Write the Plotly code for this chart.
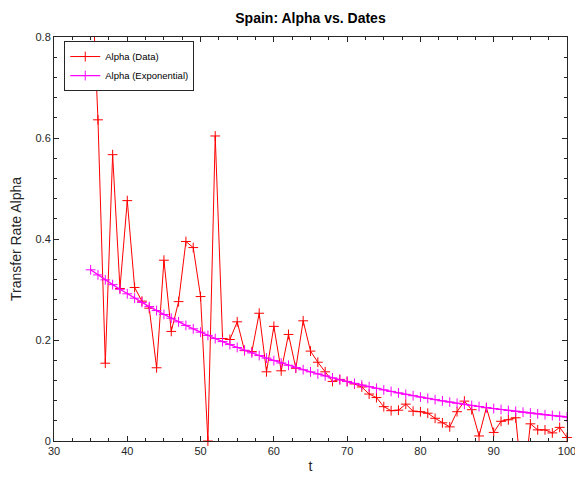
import plotly.graph_objects as go

t = list(range(35, 101))

alpha_data = [
    0.98, 0.636, 0.154, 0.567, 0.302, 0.476, 0.304, 0.277, 0.263, 0.145,
    0.358, 0.217, 0.276, 0.395, 0.383, 0.286, 0.0, 0.604, 0.203, 0.201,
    0.236, 0.179, 0.177, 0.253, 0.137, 0.227, 0.139, 0.211, 0.144, 0.238,
    0.178, 0.156, 0.137, 0.118, 0.122, 0.118, 0.113, 0.107, 0.093, 0.086,
    0.068, 0.060, 0.061, 0.073, 0.059, 0.058, 0.055, 0.045, 0.036, 0.028,
    0.058, 0.079, 0.062, 0.010, 0.066, 0.017, 0.039, 0.042, 0.046, -0.1,
    0.034, 0.022, 0.022, 0.016, 0.027, 0.007,
]

alpha_exp = [
    0.3390, 0.3289, 0.3191, 0.3096, 0.3004, 0.2915, 0.2828, 0.2744, 0.2662, 0.2583,
    0.2506, 0.2431, 0.2359, 0.2289, 0.2221, 0.2155, 0.2091, 0.2028, 0.1968, 0.1909,
    0.1852, 0.1797, 0.1744, 0.1692, 0.1641, 0.1592, 0.1545, 0.1499, 0.1454, 0.1411,
    0.1369, 0.1328, 0.1289, 0.1250, 0.1213, 0.1177, 0.1142, 0.1108, 0.1075, 0.1043,
    0.1012, 0.0982, 0.0953, 0.0924, 0.0897, 0.0870, 0.0844, 0.0819, 0.0795, 0.0771,
    0.0748, 0.0726, 0.0704, 0.0683, 0.0663, 0.0643, 0.0624, 0.0605, 0.0587, 0.0570,
    0.0553, 0.0536, 0.0520, 0.0505, 0.0490, 0.0475,
]

x_ticks = [30, 40, 50, 60, 70, 80, 90, 100]
y_ticks = [0, 0.2, 0.4, 0.6, 0.8]
y_tick_labels = ["0", "0.2", "0.4", "0.6", "0.8"]

AX = "#262626"
FONT = "Liberation Sans, Arial, sans-serif"

fig = go.Figure()
fig.add_trace(go.Scatter(
    x=t, y=alpha_data, name="Alpha (Data)", mode="lines+markers",
    line=dict(color="#ff0000", width=1),
    marker=dict(symbol="cross-thin", size=7, color="#ff0000",
                line=dict(width=1, color="#ff0000")),
    cliponaxis=False,
))
fig.add_trace(go.Scatter(
    x=t, y=alpha_exp, name="Alpha (Exponential)", mode="lines+markers",
    line=dict(color="#ff00ff", width=1.3),
    marker=dict(symbol="cross-thin", size=7, color="#ff00ff",
                line=dict(width=1, color="#ff00ff")),
))

axis_common = dict(
    showline=True, linecolor=AX, linewidth=1, mirror="ticks",
    ticks="inside", ticklen=5, tickcolor=AX, showgrid=False, zeroline=False,
    tickfont=dict(family=FONT, size=11, color=AX),
    ticklabeloverflow="allow", automargin=False,
)

fig.update_layout(
    width=575, height=478,
    margin=dict(l=54, r=8, t=37, b=37, autoexpand=False),
    paper_bgcolor="white", plot_bgcolor="white",
    title=dict(text="<b>Spain: Alpha vs. Dates</b>", x=0.54, xanchor="center",
               y=0.962, yanchor="middle",
               font=dict(family=FONT, size=14, color="black")),
    xaxis=dict(range=[30, 100], tickvals=x_ticks,
               minor=dict(dtick=2.5, ticks="inside", ticklen=3, tickcolor=AX),
               title=dict(text="t", font=dict(family=FONT, size=14, color=AX), standoff=4),
               **axis_common),
    yaxis=dict(range=[0, 0.8], tickvals=y_ticks, ticktext=y_tick_labels,
               minor=dict(dtick=0.04, ticks="inside", ticklen=3, tickcolor=AX),
               title=dict(text="Transfer Rate Alpha", font=dict(family=FONT, size=14, color=AX), standoff=10),
               **axis_common),
    legend=dict(x=0.02, y=0.99, xanchor="left", yanchor="top",
                bgcolor="white", bordercolor=AX, borderwidth=1,
                font=dict(family=FONT, size=9.5, color="black"),
                itemwidth=30, tracegroupgap=0),
    showlegend=True,
)

fig.write_html("out.html")
